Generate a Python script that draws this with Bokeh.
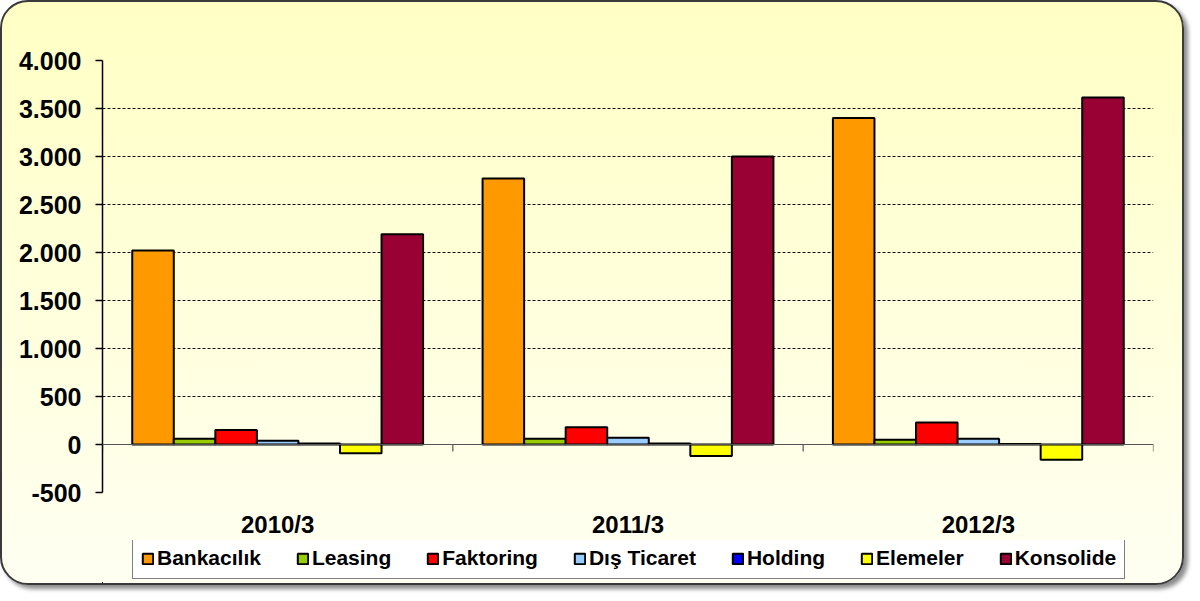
import math
from bokeh.plotting import figure
from bokeh.layouts import column
from bokeh.models import (ColumnDataSource, Range1d, FixedTicker, Legend, LegendItem, Span)
from bokeh.transform import dodge
from bokeh.embed import file_html
from bokeh.resources import INLINE

periods = ["2010/3", "2011/3", "2012/3"]
series = ["Bankacılık", "Leasing", "Faktoring", "Dış Ticaret", "Holding", "Elemeler", "Konsolide"]
colors = ["#FF9900", "#99CC00", "#FF0000", "#99CCFF", "#0000FF", "#FFFF00", "#990033"]
bankacilik = [2020, 2770, 3400]
leasing = [60, 60, 50]
faktoring = [150, 180, 230]
dis_ticaret = [40, 70, 60]
holding = [10, 10, 5]
elemeler = [-90, -120, -160]
konsolide = [2190, 3000, 3615]
values = [bankacilik, leasing, faktoring, dis_ticaret, holding, elemeler, konsolide]

y_ticks = [-500, 0, 500, 1000, 1500, 2000, 2500, 3000, 3500, 4000]
y_labels = ["-500", "0", "500", "1.000", "1.500", "2.000", "2.500", "3.000", "3.500", "4.000"]

FONT = "Liberation Sans"
BAR_W = 0.1186

p = figure(width=1180, height=538, output_backend="svg", toolbar_location=None,
           x_range=Range1d(0, len(periods)), y_range=Range1d(-500, 4000),
           min_border_left=100, min_border_right=29, min_border_top=58, min_border_bottom=46)
p.background_fill_color = None
p.border_fill_color = None
p.outline_line_color = None

p.xgrid.grid_line_color = None
p.ygrid.ticker = FixedTicker(ticks=[t for t in y_ticks if t != 0])
p.ygrid.grid_line_color = "#111111"
p.ygrid.grid_line_dash = "3 2"
p.ygrid.grid_line_width = 1

# zero line and category-boundary ticks
p.add_layout(Span(location=0, dimension="width", line_color="#555555", line_width=1.2))
bounds = ColumnDataSource(dict(x=list(range(len(periods) + 1)), y=[0] * (len(periods) + 1)))
p.ray(x="x", y="y", length=7, length_units="screen", angle=-math.pi / 2,
      line_color="#555555", line_width=1.2, source=bounds)

centers = [i + 0.5 for i in range(len(periods))]
for j, (name, col, vals) in enumerate(zip(series, colors, values)):
    src = ColumnDataSource(dict(x=centers, top=vals))
    p.vbar(x=dodge("x", (j - 3) * BAR_W), top="top", bottom=0, width=BAR_W, source=src,
           fill_color=col, line_color="black", line_width=2)

xa = p.xaxis[0]
xa.ticker = FixedTicker(ticks=centers)
xa.major_label_overrides = {c: lab for c, lab in zip(centers, periods)}
xa.axis_line_color = None
xa.major_tick_line_color = None
xa.minor_tick_line_color = None
xa.major_tick_out = 0
xa.major_label_standoff = 18
xa.major_label_text_font = FONT
xa.major_label_text_font_style = "bold"
xa.major_label_text_font_size = "24px"
xa.major_label_text_color = "black"

ya = p.yaxis[0]
ya.ticker = FixedTicker(ticks=y_ticks)
ya.major_label_overrides = {t: lab for t, lab in zip(y_ticks, y_labels)}
ya.axis_line_color = "black"
ya.axis_line_width = 1.5
ya.major_tick_line_color = "black"
ya.major_tick_line_width = 1.5
ya.major_tick_out = 7
ya.major_tick_in = 0
ya.minor_tick_line_color = None
ya.major_label_standoff = 14
ya.major_label_text_font = FONT
ya.major_label_text_font_style = "bold"
ya.major_label_text_font_size = "25px"
ya.major_label_text_color = "black"

# legend strip: a second figure whose bars lie entirely outside its visible ranges
lg = figure(width=1180, height=43, output_backend="svg", toolbar_location=None,
            x_axis_type=None, y_axis_type=None,
            x_range=Range1d(100, 101), y_range=Range1d(100000, 100001),
            min_border=0)
lg.background_fill_color = None
lg.border_fill_color = None
lg.outline_line_color = None
items = []
for j, (name, col, vals) in enumerate(zip(series, colors, values)):
    src = ColumnDataSource(dict(x=centers, top=vals))
    r = lg.vbar(x="x", top="top", bottom=0, width=BAR_W, source=src,
                fill_color=col, line_color="black", line_width=2)
    items.append(LegendItem(label=name, renderers=[r]))

legend = Legend(items=items, orientation="horizontal", location=(30, 4),
                label_text_font=FONT, label_text_font_style="bold", label_text_font_size="21px",
                label_text_color="black", glyph_width=13, glyph_height=13, label_standoff=3,
                spacing=35, padding=8, margin=0,
                border_line_color="black", border_line_width=1.5, background_fill_color="white",
                background_fill_alpha=1.0)
lg.add_layout(legend)

layout = column(p, lg, spacing=0)
layout.styles = {
    "border": "2px solid #3a3a3a",
    "border-radius": "28px",
    "background": "linear-gradient(to bottom, #FFFFC4, #FFFFF2)",
    "box-shadow": "4px 4px 4px rgba(0,0,0,0.45)",
}

open("out.html", "w").write(file_html(layout, INLINE))
